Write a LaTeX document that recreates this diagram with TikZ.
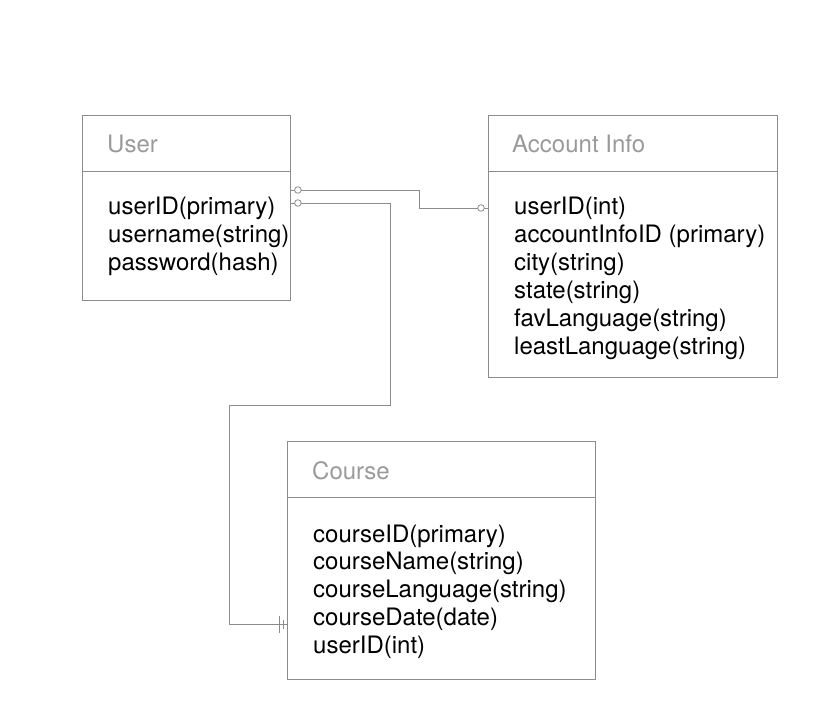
\documentclass[tikz,border=0pt]{standalone}
\usepackage{fontspec}
\setmainfont{TeX Gyre Heros}
\usetikzlibrary{calc}
\definecolor{edgegray}{HTML}{8C8C8C}
\definecolor{titlegray}{HTML}{9A9A9A}
\tikzset{
  table/.style={draw=edgegray, line width=0.9pt, anchor=north west, inner sep=0pt},
  head/.style={anchor=base west, text=titlegray, inner sep=0pt,
    font=\fontsize{24}{28}\selectfont},
  field/.style={anchor=base west, inner sep=0pt,
    font=\fontsize{24}{28}\selectfont},
  link/.style={draw=edgegray, line width=0.9pt},
  zero/.style={draw=edgegray, fill=white, line width=0.8pt},
}
\begin{document}
\begin{tikzpicture}[x=1pt, y=-1pt]
    \useasboundingbox (0,0) rectangle (839,722);
    % Tables
    \node[table, minimum width=208pt, minimum height=185pt] (user) at (82,115) {};
    \node[table, minimum width=289pt, minimum height=262pt] (acct) at (488,115) {};
    \node[table, minimum width=308pt, minimum height=238pt] (course) at (287,441) {};
    % Header lines
    \draw[link] (user.west |- 0,171) -- (user.east |- 0,171);
    \draw[link] (acct.west |- 0,171) -- (acct.east |- 0,171);
    \draw[link] (course.west |- 0,497) -- (course.east |- 0,497);
    % Titles
    \node[head] (user-title) at (107,153) {User};
    \node[head] (acct-title) at (512,153) {Account Info};
    \node[head] (course-title) at (312,479) {Course};
    % Fields
    \foreach \f [count=\i from 0] in {userID(primary), username(string),
        password(hash)}
      \node[field] (user-\i) at (108,215+28*\i) {\f};
    \foreach \f [count=\i from 0] in {userID(int), accountInfoID (primary),
        city(string), state(string), favLanguage(string), leastLanguage(string)}
      \node[field] (acct-\i) at (514,215+28*\i) {\f};
    \foreach \f [count=\i from 0] in {courseID(primary), courseName(string),
        courseLanguage(string), courseDate(date), userID(int)}
      \node[field] (course-\i) at (313,542+27.8*\i) {\f};
    % Relations
    \coordinate (ua) at (user.east |- 0,190);
    \coordinate (ub) at (user.east |- 0,203);
    \coordinate (ab) at (acct.west |- 0,208);
    \coordinate (cb) at (course.west |- 0,624);
    \draw[link] (ua) -- ++(129,0) |- (ab);
    \draw[link] (ub) -| (390,405) -| (229,624) -- (cb);
    \draw[zero] ($(ua)+(7,0)$) circle (3.3pt);
    \draw[zero] ($(ub)+(7,0)$) circle (3.3pt);
    \draw[zero] ($(ab)+(-7,0)$) circle (3.3pt);
    \draw[link] ($(cb)+(-8,-8.5)$) -- ++(0,17);
    \draw[link] ($(cb)+(-4,-4.5)$) -- ++(0,9);
\end{tikzpicture}
\end{document}
